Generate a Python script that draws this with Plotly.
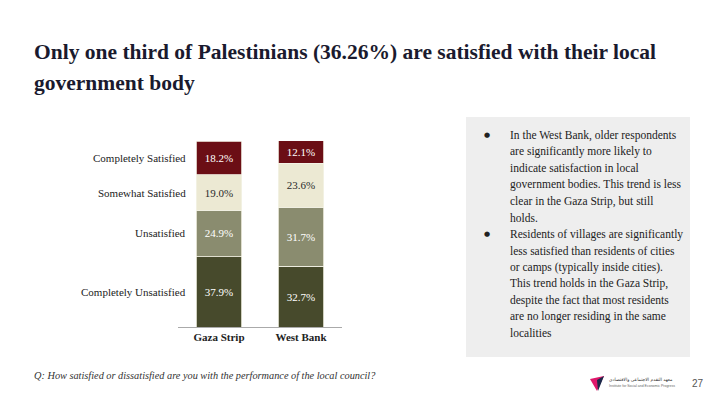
import plotly.graph_objects as go

regions = ["Gaza Strip", "West Bank"]
levels = ["Completely Unsatisfied", "Unsatisfied", "Somewhat Satisfied", "Completely Satisfied"]
values = {
    "Completely Unsatisfied": [37.9, 32.7],
    "Unsatisfied": [24.9, 31.7],
    "Somewhat Satisfied": [19.0, 23.6],
    "Completely Satisfied": [18.2, 12.1],
}
colors = {
    "Completely Unsatisfied": "#474a2c",
    "Unsatisfied": "#8a8c6f",
    "Somewhat Satisfied": "#ece9d3",
    "Completely Satisfied": "#6b0e15",
}
text_colors = {
    "Completely Unsatisfied": "#ffffff",
    "Unsatisfied": "#ffffff",
    "Somewhat Satisfied": "#2a2a2a",
    "Completely Satisfied": "#ffffff",
}
title_lines = ["Only one third of Palestinians (36.26%) are satisfied with their local",
               "government body"]
notes = [
    ("In the West Bank, older respondents", True),
    ("are significantly more likely to", False),
    ("indicate satisfaction in local", False),
    ("government bodies. This trend is less", False),
    ("clear in the Gaza Strip, but still", False),
    ("holds.", False),
    ("Residents of villages are significantly", True),
    ("less satisfied than residents of cities", False),
    ("or camps (typically inside cities).", False),
    ("This trend holds in the Gaza Strip,", False),
    ("despite the fact that most residents", False),
    ("are no longer residing in the same", False),
    ("localities", False),
]
question = "Q: How satisfied or dissatisfied are you with the performance of the local council?"
page_no = "27"
org_ar = "معهد التقدم الاجتماعي والاقتصادي"
org_en = "Institute for Social and Economic Progress"

W, H = 720, 405
L, R, T, B = 178, 342, 141, 327


def px(x):
    return (x - L) / (R - L)


def py(y):
    return (B - y) / (B - T)


fig = go.Figure()
for lev in levels:
    fig.add_trace(go.Bar(
        x=regions, y=values[lev], name=lev,
        marker=dict(color=colors[lev], line=dict(color="#f4f2e6", width=0.8)),
        text=[f"{v:.1f}%" for v in values[lev]],
        textposition="inside", insidetextanchor="middle", textangle=0,
        textfont=dict(family="Liberation Serif", size=11, color=text_colors[lev]),
        width=0.55, hoverinfo="skip",
    ))

annotations = []
# category labels at midpoints of the Gaza segments
cum = 0
for lev in levels:
    v = values[lev][0]
    annotations.append(dict(
        xref="paper", yref="y", x=px(188), y=cum + v / 2, text=lev, showarrow=False,
        xanchor="right", yanchor="middle",
        font=dict(family="Liberation Serif", size=11, color="#222222")))
    cum += v

# title
for i, line in enumerate(title_lines):
    annotations.append(dict(
        xref="paper", yref="paper", x=px(32), y=py(52 + 31 * i), text=f"<b>{line}</b>",
        showarrow=False, xanchor="left", yanchor="middle",
        font=dict(family="Liberation Serif", size=21.5, color="#1a1a2e")))

# notes
for i, (line, bullet) in enumerate(notes):
    yy = 135 + 16.5 * i
    if bullet:
        annotations.append(dict(
            xref="paper", yref="paper", x=px(487), y=py(yy), text="●", showarrow=False,
            xanchor="center", yanchor="middle",
            font=dict(family="DejaVu Sans", size=7, color="#222222")))
    annotations.append(dict(
        xref="paper", yref="paper", x=px(508), y=py(yy), text=line, showarrow=False,
        xanchor="left", yanchor="middle",
        font=dict(family="Liberation Serif", size=11.5, color="#222222")))

# footer
annotations.append(dict(
    xref="paper", yref="paper", x=px(32), y=py(375), text=f"<i>{question}</i>",
    showarrow=False, xanchor="left", yanchor="middle",
    font=dict(family="Liberation Serif", size=10.3, color="#333333")))
annotations.append(dict(
    xref="paper", yref="paper", x=px(706), y=py(383), text=page_no,
    showarrow=False, xanchor="right", yanchor="middle",
    font=dict(family="Liberation Sans", size=10, color="#555555")))
annotations.append(dict(
    xref="paper", yref="paper", x=px(607), y=py(380), text=org_ar,
    showarrow=False, xanchor="left", yanchor="middle",
    font=dict(family="DejaVu Sans", size=4.5, color="#333333")))
annotations.append(dict(
    xref="paper", yref="paper", x=px(607), y=py(386), text=org_en,
    showarrow=False, xanchor="left", yanchor="middle",
    font=dict(family="Liberation Sans", size=3.5, color="#666666")))

shapes = [
    dict(type="rect", xref="paper", yref="paper", x0=px(466), x1=px(690), y0=py(117), y1=py(357),
         fillcolor="#eeeeee", line=dict(width=0), layer="below"),
    dict(type="path", xref="paper", yref="paper",
         path=f"M {px(590)},{py(379)} L {px(604)},{py(376)} L {px(597)},{py(391)} Z",
         fillcolor="#e0176b", line=dict(width=0)),
    dict(type="path", xref="paper", yref="paper",
         path=f"M {px(597)},{py(380)} L {px(604)},{py(376)} L {px(598)},{py(391)} Z",
         fillcolor="#1b2a4a", line=dict(width=0)),
]

fig.update_layout(
    barmode="stack", width=W, height=H,
    margin=dict(l=L, r=W - R, t=T, b=H - B),
    paper_bgcolor="white", plot_bgcolor="white",
    showlegend=False, bargap=0.45,
    xaxis=dict(range=[-0.5, 1.5], showline=True, linecolor="#aaaaaa", linewidth=1,
               tickvals=regions, ticktext=[f"<b>{r}</b>" for r in regions],
               tickfont=dict(family="Liberation Serif", size=11, color="#222222"),
               ticks="", fixedrange=True),
    yaxis=dict(range=[0, 100], visible=False, fixedrange=True),
    annotations=annotations, shapes=shapes,
)

fig.write_html("out.html")
